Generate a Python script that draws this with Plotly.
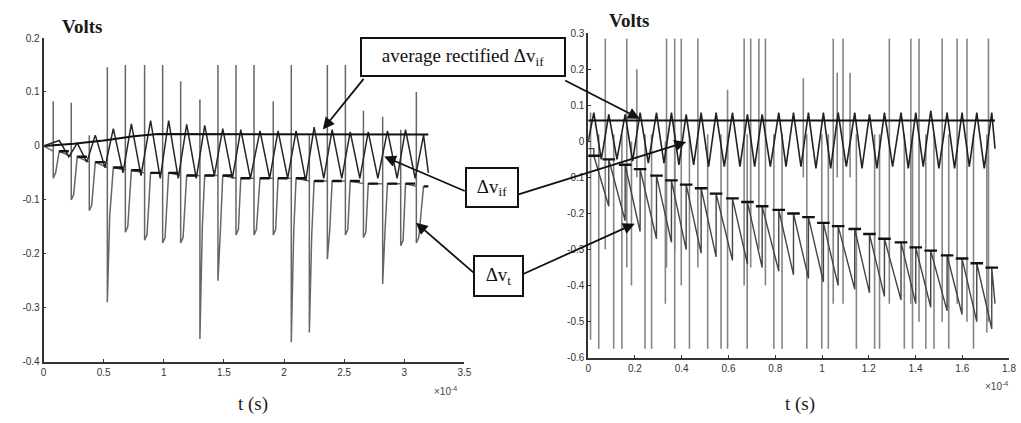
import plotly.graph_objects as go

# ================= LEFT PANEL (time in units of 1e-4 s) =================
# delta v_if : cycle peaks and troughs
L_pk_t = [0.13, 0.28, 0.43, 0.58, 0.73, 0.89, 1.04, 1.19, 1.34, 1.49, 1.64,
          1.80, 1.95, 2.10, 2.25, 2.40, 2.55, 2.70, 2.86, 3.01, 3.16]
L_if_peak = [0.010, 0.005, 0.020, 0.032, 0.041, 0.047, 0.047, 0.040, 0.038, 0.032, 0.030,
             0.028, 0.028, 0.028, 0.035, 0.030, 0.026, 0.026, 0.028, 0.030, 0.020]
L_tr_t = [0.21, 0.36, 0.51, 0.66, 0.81, 0.97, 1.12, 1.27, 1.42, 1.57, 1.72,
          1.88, 2.03, 2.18, 2.33, 2.48, 2.63, 2.78, 2.94, 3.09, 3.20]
L_if_trough = [-0.02, -0.03, -0.04, -0.05, -0.055, -0.06, -0.06, -0.06, -0.055, -0.06, -0.06,
               -0.06, -0.06, -0.065, -0.06, -0.06, -0.06, -0.06, -0.06, -0.06, -0.05]
# delta v_t : spikes, lows and mean level per cycle
L_sp_t = [0.08, 0.23, 0.38, 0.53, 0.68, 0.84, 0.99, 1.14, 1.30, 1.45, 1.60,
          1.75, 1.91, 2.06, 2.21, 2.36, 2.51, 2.66, 2.82, 2.97, 3.10]
L_sp_up = [0.083, 0.080, 0.020, 0.146, 0.150, 0.150, 0.150, 0.120, 0.086, 0.150, 0.150,
           0.150, 0.083, 0.150, 0.020, 0.150, 0.150, 0.065, 0.054, 0.030, 0.100]
L_sp_dn = [-0.06, -0.10, -0.12, -0.29, -0.16, -0.175, -0.18, -0.18, -0.358, -0.25, -0.165,
           -0.165, -0.165, -0.364, -0.346, -0.21, -0.165, -0.17, -0.256, -0.185, -0.18]
L_low_t = [0.10, 0.25, 0.40, 0.55, 0.70, 0.86, 1.01, 1.16, 1.32, 1.47, 1.62,
           1.77, 1.93, 2.08, 2.23, 2.38, 2.53, 2.68, 2.84, 2.99, 3.12]
L_vt_low = [-0.05, -0.09, -0.11, -0.13, -0.15, -0.165, -0.17, -0.17, -0.15, -0.16, -0.155,
            -0.155, -0.155, -0.16, -0.165, -0.155, -0.155, -0.16, -0.155, -0.175, -0.17]
L_vt_level = [-0.01, -0.02, -0.03, -0.04, -0.045, -0.05, -0.05, -0.055, -0.055, -0.055, -0.06,
              -0.06, -0.06, -0.06, -0.065, -0.065, -0.065, -0.07, -0.07, -0.07, -0.075]
# average rectified delta v_if
L_avg_t = [0.0, 0.25, 0.50, 0.75, 0.95, 1.5, 2.0, 2.5, 3.2]
L_avg_v = [0.0, 0.004, 0.010, 0.018, 0.022, 0.022, 0.021, 0.021, 0.021]

# ================= RIGHT PANEL (time in units of 1e-4 s) =================
R_pk_t = [0.024, 0.088, 0.158, 0.222, 0.292, 0.356, 0.419, 0.483, 0.547, 0.617, 0.681,
          0.744, 0.815, 0.878, 0.942, 1.006, 1.069, 1.140, 1.203, 1.267, 1.338, 1.401,
          1.465, 1.535, 1.599, 1.662, 1.726]
R_if_peak = [0.08, 0.075, 0.075, 0.08, 0.08, 0.08, 0.075, 0.08, 0.08, 0.08, 0.075,
             0.075, 0.08, 0.08, 0.08, 0.08, 0.08, 0.08, 0.075, 0.08, 0.08, 0.08,
             0.085, 0.08, 0.08, 0.08, 0.08]
R_tr_t = [0.056, 0.123, 0.190, 0.257, 0.324, 0.388, 0.451, 0.515, 0.582, 0.649, 0.712,
          0.779, 0.846, 0.910, 0.974, 1.037, 1.104, 1.171, 1.235, 1.302, 1.369, 1.433,
          1.500, 1.567, 1.630, 1.694, 1.740]
R_if_trough = [-0.05, -0.05, -0.055, -0.06, -0.06, -0.065, -0.065, -0.07, -0.07, -0.07, -0.07,
               -0.07, -0.07, -0.07, -0.075, -0.075, -0.07, -0.075, -0.075, -0.07, -0.075, -0.07,
               -0.075, -0.075, -0.07, -0.075, -0.02]
R_vt_up = [-0.04, -0.05, -0.065, -0.077, -0.095, -0.108, -0.12, -0.13, -0.145, -0.158, -0.168,
           -0.18, -0.19, -0.20, -0.21, -0.226, -0.235, -0.243, -0.257, -0.27, -0.28, -0.294,
           -0.303, -0.316, -0.325, -0.338, -0.35]
R_vt_low = [-0.18, -0.22, -0.25, -0.27, -0.28, -0.30, -0.31, -0.32, -0.33, -0.34, -0.35,
            -0.36, -0.37, -0.38, -0.39, -0.40, -0.41, -0.42, -0.43, -0.44, -0.45, -0.46,
            -0.47, -0.48, -0.50, -0.52, -0.45]
R_avg_t = [0.0, 0.6, 1.2, 1.74]
R_avg_v = [0.058, 0.058, 0.058, 0.058]
R_up_t = [0.073, 0.165, 0.208, 0.335, 0.370, 0.398, 0.469, 0.596, 0.667, 0.695, 0.730, 0.758,
          0.920, 1.048, 1.065, 1.090, 1.120, 1.288, 1.380, 1.415, 1.514, 1.578, 1.620, 1.712]
R_up_top = [0.285, 0.285, 0.20, 0.285, 0.285, 0.285, 0.285, 0.143, 0.285, 0.285, 0.285, 0.285,
            0.175, 0.285, 0.19, 0.285, 0.19, 0.285, 0.285, 0.285, 0.285, 0.285, 0.285, 0.285]
R_up_bot = [-0.30, -0.35, -0.10, -0.35, -0.30, -0.40, -0.35, -0.05, -0.40, -0.35, -0.30, -0.40,
            -0.10, -0.45, -0.10, -0.45, -0.10, -0.45, -0.45, -0.50, -0.50, -0.45, -0.50, -0.50]
R_dn_t = [0.010, 0.045, 0.109, 0.144, 0.185, 0.243, 0.271, 0.330, 0.370, 0.433, 0.511, 0.568,
          0.596, 0.680, 0.794, 0.829, 0.935, 0.999, 1.027, 1.147, 1.225, 1.246, 1.352, 1.387,
          1.444, 1.479, 1.542, 1.648, 1.705]
R_dn_top = [0.08, 0.02, 0.02, 0.02, 0.0, 0.02, 0.02, 0.0, 0.02, 0.02, 0.02, 0.02,
            0.02, 0.02, 0.02, 0.02, 0.02, 0.02, 0.02, 0.02, 0.02, 0.02, 0.02, 0.02,
            0.02, 0.02, 0.02, 0.02, 0.02]
R_dn_bot = [-0.55, -0.575, -0.575, -0.575, -0.40, -0.575, -0.575, -0.45, -0.575, -0.575, -0.575,
            -0.575, -0.575, -0.575, -0.575, -0.575, -0.575, -0.575, -0.575, -0.575, -0.575,
            -0.575, -0.575, -0.575, -0.575, -0.575, -0.575, -0.575, -0.53]

# ticks
L_xtick = [0, 0.5, 1, 1.5, 2, 2.5, 3, 3.5]
L_xtext = ["0", "0.5", "1", "1.5", "2", "2.5", "3", "3.5"]
L_ytick = [-0.4, -0.3, -0.2, -0.1, 0, 0.1, 0.2]
L_ytext = ["-0.4", "-0.3", "-0.2", "-0.1", "0", "0.1", "0.2"]
R_xtick = [0, 0.2, 0.4, 0.6, 0.8, 1.0, 1.2, 1.4, 1.6, 1.8]
R_xtext = ["0", "0.2", "0.4", "0.6", "0.8", "1", "1.2", "1.4", "1.6", "1.8"]
R_ytick = [-0.6, -0.5, -0.4, -0.3, -0.2, -0.1, 0, 0.1, 0.2, 0.3]
R_ytext = ["-0.6", "-0.5", "-0.4", "-0.3", "-0.2", "-0.1", "0", "0.1", "0.2", "0.3"]

# ---------- build polylines from the read values ----------
def zigzag(t1, v1, t2, v2):
    xs, ys = [], []
    for a, b, c, d in zip(t1, v1, t2, v2):
        xs += [a, c]
        ys += [b, d]
    return xs, ys

def segments(t, top, bot):
    xs, ys = [], []
    for a, b, c in zip(t, top, bot):
        xs += [a, a, None]
        ys += [b, c, None]
    return xs, ys

fig = go.Figure()

# left: delta v_t (gray, with spikes)
lx, ly = [0.0], [0.0]
for k in range(len(L_sp_t)):
    lx += [L_sp_t[k], L_sp_t[k], L_sp_t[k], L_low_t[k], L_pk_t[k]]
    ly += [L_vt_level[k], L_sp_up[k], L_sp_dn[k], L_vt_low[k], L_vt_level[k]]
fig.add_trace(go.Scatter(x=lx, y=ly, mode="lines", line=dict(color="#666666", width=1.5),
                         xaxis="x", yaxis="y", hoverinfo="skip"))
# left: delta v_if (black zigzag)
zx, zy = zigzag(L_pk_t, L_if_peak, L_tr_t, L_if_trough)
fig.add_trace(go.Scatter(x=[0.0] + zx, y=[0.0] + zy, mode="lines",
                         line=dict(color="#262626", width=1.5), xaxis="x", yaxis="y", hoverinfo="skip"))
# left: mean of delta v_t (black steps)
sx, sy = [], []
for k in range(len(L_pk_t)):
    sx += [L_pk_t[k], L_tr_t[k], None]
    sy += [L_vt_level[k], L_vt_level[k], None]
fig.add_trace(go.Scatter(x=sx, y=sy, mode="lines", line=dict(color="#111111", width=2.4),
                         xaxis="x", yaxis="y", hoverinfo="skip"))
# left: average rectified
fig.add_trace(go.Scatter(x=L_avg_t, y=L_avg_v, mode="lines", line=dict(color="#111111", width=2),
                         xaxis="x", yaxis="y", hoverinfo="skip"))

# right: spikes
ux, uy = segments(R_up_t, R_up_top, R_up_bot)
fig.add_trace(go.Scatter(x=ux, y=uy, mode="lines", line=dict(color="#858585", width=1.6),
                         xaxis="x2", yaxis="y2", hoverinfo="skip"))
dx, dy = segments(R_dn_t, R_dn_top, R_dn_bot)
fig.add_trace(go.Scatter(x=dx, y=dy, mode="lines", line=dict(color="#858585", width=1.6),
                         xaxis="x2", yaxis="y2", hoverinfo="skip"))
# right: delta v_t sawtooth
rx, ry = [0.0], [-0.02]
prev_low = -0.02
for k in range(len(R_pk_t)):
    rx += [R_pk_t[k], R_pk_t[k]]
    ry += [prev_low, R_vt_up[k]]
    nxt = R_pk_t[k + 1] if k + 1 < len(R_pk_t) else R_tr_t[-1]
    rx += [nxt]
    ry += [R_vt_low[k]]
    prev_low = R_vt_low[k]
fig.add_trace(go.Scatter(x=rx, y=ry, mode="lines", line=dict(color="#444444", width=1.4),
                         xaxis="x2", yaxis="y2", hoverinfo="skip"))
fig.add_trace(go.Scatter(x=R_pk_t, y=R_vt_up, mode="markers",
                         marker=dict(symbol="line-ew", size=9, line=dict(color="#111111", width=2.4)),
                         xaxis="x2", yaxis="y2", hoverinfo="skip"))
# right: delta v_if
zx, zy = zigzag(R_pk_t, R_if_peak, R_tr_t, R_if_trough)
fig.add_trace(go.Scatter(x=[0.0] + zx, y=[0.0] + zy, mode="lines",
                         line=dict(color="#222222", width=1.6), xaxis="x2", yaxis="y2", hoverinfo="skip"))
# right: average rectified
fig.add_trace(go.Scatter(x=R_avg_t, y=R_avg_v, mode="lines", line=dict(color="#111111", width=2),
                         xaxis="x2", yaxis="y2", hoverinfo="skip"))

W, H = 1021, 423
axis_common = dict(showline=True, linecolor="#333333", linewidth=1.8, ticks="inside", ticklen=3,
                   tickcolor="#333333", showgrid=False, zeroline=False, mirror=False,
                   tickfont=dict(family="Liberation Sans", size=10, color="#333333"))

fig.update_layout(
    width=W, height=H, autosize=False, showlegend=False,
    margin=dict(l=0, r=0, t=0, b=0),
    paper_bgcolor="white", plot_bgcolor="white",
    xaxis=dict(domain=[41 / W, 466 / W], range=[0, 3.5], anchor="y",
               tickvals=L_xtick, ticktext=L_xtext, **axis_common),
    yaxis=dict(domain=[(H - 366) / H, (H - 33) / H], range=[-0.4, 0.2], anchor="x",
               tickvals=L_ytick, ticktext=L_ytext, **axis_common),
    xaxis2=dict(domain=[591 / W, 1016 / W], range=[0, 1.8], anchor="y2",
                tickvals=R_xtick, ticktext=R_xtext, **axis_common),
    yaxis2=dict(domain=[(H - 362) / H, (H - 28) / H], range=[-0.6, 0.3], anchor="x2",
                tickvals=R_ytick, ticktext=R_ytext, **axis_common),
)

serif = "Liberation Serif"

def px_ann(xp, yp, text, size, family=serif, color="#1a1a1a", xanchor="center"):
    fig.add_annotation(x=xp / W, y=1 - yp / H, xref="paper", yref="paper", text=text,
                       xanchor=xanchor, yanchor="middle",
                       showarrow=False, font=dict(family=family, size=size, color=color))

px_ann(80, 21, "<b>Volts</b>", 19)
px_ann(632, 15, "<b>Volts</b>", 19)
px_ann(252, 410, "t (s)", 19)
px_ann(805, 410, "t (s)", 19)
px_ann(447, 396, "×10<sup>-4</sup>", 10, "Liberation Sans", "#444444")
px_ann(1003, 391, "×10<sup>-4</sup>", 10, "Liberation Sans", "#444444")

# arrows (tip pixel, tail pixel)
arrows = [((323, 127), (365, 75)), ((643, 116), (567, 77)),
          ((385, 155), (467, 190)), ((690, 140), (520, 193)),
          ((417, 223), (477, 275)), ((638, 224), (525, 275))]
for (tx, ty), (sx_, sy_) in arrows:
    fig.add_annotation(x=tx / W, y=1 - ty / H, xref="paper", yref="paper", text="",
                       showarrow=True, ax=sx_ - tx, ay=sy_ - ty, arrowhead=2, arrowsize=1.3,
                       arrowwidth=1.8, arrowcolor="#111111")

# labelled boxes
def box(cx, cy, w, h, text):
    fig.add_annotation(x=cx / W, y=1 - cy / H, xref="paper", yref="paper", text=text,
                       xanchor="center", yanchor="middle",
                       showarrow=False, width=w, height=h, bgcolor="white",
                       bordercolor="#111111", borderwidth=2, borderpad=1,
                       font=dict(family=serif, size=19, color="#111111"))

box(465, 52, 200, 34, "average rectified Δv<sub>if</sub>")
box(494, 187, 48, 35, "Δv<sub>if</sub>")
box(500, 278, 45, 36, "Δv<sub>t</sub>")

fig.write_html("out.html", config={"displayModeBar": False},
               post_script="document.body.style.margin='0';document.body.style.padding='0';")
